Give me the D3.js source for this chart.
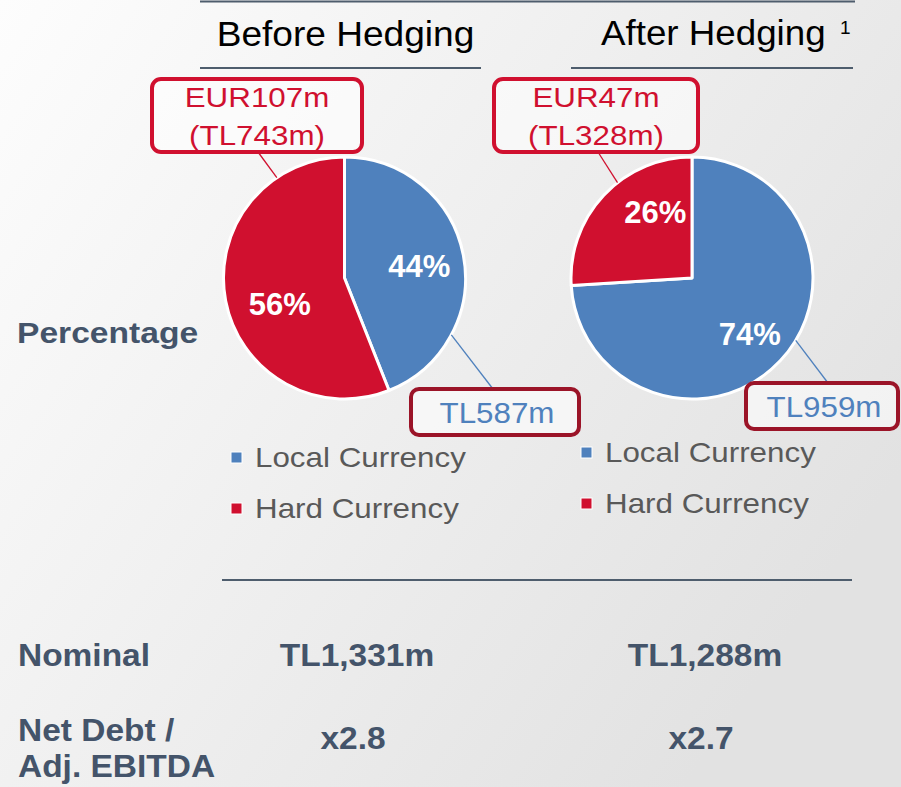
<!DOCTYPE html>
<html>
<head>
<meta charset="utf-8">
<script src="https://cdn.jsdelivr.net/npm/d3@7"></script>
<style>
  body { margin: 0; overflow: hidden; }
  text { font-family: "Liberation Sans", Arial, sans-serif; }
</style>
</head>
<body>
<div class="container"></div>
<script>
const WIDTH = 901;
const HEIGHT = 787;

// data
var panels = ["Before Hedging", "After Hedging"];
var seriesNames = ["Local Currency", "Hard Currency"];
var localShare = [44, 74];
var hardShare = [56, 26];
var localAmount = ["TL587m", "TL959m"];
var hardAmount = [["EUR107m", "(TL743m)"], ["EUR47m", "(TL328m)"]];
var nominal = ["TL1,331m", "TL1,288m"];
var leverage = ["x2.8", "x2.7"];

const BLUE = "#4f81bd";
const RED = "#d0102f";
const DARKRED = "#9b1428";
const SLATE = "#44546a";
const GREY = "#595959";
const RADIUS = 121;

var color = d3.scaleOrdinal().domain(seriesNames).range([BLUE, RED]);
var pieX = d3.scaleOrdinal().domain(panels).range([344.5, 692]);
var tableX = d3.scaleOrdinal().domain(panels).range([357, 705]);
const PIE_Y = 278;

// callout layout per panel (box position, leader start and pie angle in degrees)
var hardBox = [{x: 152, y: 79, w: 210, h: 73, lx: 258, ly: 152, a: -34},
               {x: 494, y: 79, w: 204, h: 73, lx: 598, ly: 152, a: -38}];
var localBox = [{x: 411, y: 389, w: 168, h: 46, lx: 493, ly: 389, a: 118},
                {x: 746, y: 383, w: 152, h: 46, lx: 828, ly: 383, a: 121}];
var legendPos = [{x: 231, y: 452}, {x: 581, y: 447}];
// small label nudges (px) from the centroid, local then hard
var pctNudge = [[[1, 2], [9, 12]], [[3, 5], [18, -15]]];

var translate = function (x, y) {
    return "translate(" + x + "," + y + ")";
};

// text helper; sx stretches glyphs a little the way the slide does
var label = function (g, x, y, txt, size, opts) {
    opts = opts || {};
    return g.append("text")
        .attr("transform", translate(x, y) + " scale(" + (opts.sx || 1) + ",1)")
        .attr("text-anchor", opts.anchor || "start")
        .attr("font-size", size)
        .attr("font-weight", opts.bold ? "bold" : "normal")
        .attr("fill", opts.fill || "#000")
        .text(txt);
};

var svg = d3.select(".container").append("svg")
    .attr("width", WIDTH)
    .attr("height", HEIGHT);

var grad = svg.append("defs").append("linearGradient")
    .attr("id", "bg").attr("x1", 0).attr("y1", 0).attr("x2", 1).attr("y2", 0.6);
grad.append("stop").attr("offset", "0%").attr("stop-color", "#fdfdfd");
grad.append("stop").attr("offset", "100%").attr("stop-color", "#e2e2e2");
svg.append("rect").attr("width", WIDTH).attr("height", HEIGHT).attr("fill", "url(#bg)");

// rules
var rule = function (x1, x2, y) {
    svg.append("line").attr("x1", x1).attr("x2", x2).attr("y1", y).attr("y2", y)
        .attr("stroke", "#4e5d6d").attr("stroke-width", 2);
};
rule(200, 855, 1.5);
rule(200, 481, 68);
rule(571, 853, 68);
rule(222, 852, 580);

// headers
label(svg, pieX(panels[0]) + 1, 46, panels[0], 35, {anchor: "middle", sx: 1.06});
label(svg, 601, 45, panels[1], 35, {sx: 1.05});
label(svg, 840, 34, "1", 19);

label(svg, 17, 343, "Percentage", 30, {bold: true, fill: SLATE, sx: 1.12});

var pie = d3.pie().sort(null).value(function (d) { return d.value; });
var arc = d3.arc().innerRadius(0).outerRadius(RADIUS);
var labelArc = d3.arc().innerRadius(RADIUS * 0.62).outerRadius(RADIUS * 0.62);

panels.forEach(function (p, i) {
    var cx = pieX(p);
    var data = [
        {name: seriesNames[0], value: localShare[i]},
        {name: seriesNames[1], value: hardShare[i]}
    ];
    var g = svg.append("g").attr("transform", translate(cx, PIE_Y));

    g.selectAll("path").data(pie(data)).enter().append("path")
        .attr("d", arc)
        .attr("fill", function (d) { return color(d.data.name); })
        .attr("stroke", "#fff")
        .attr("stroke-width", 3)
        .attr("stroke-linejoin", "round");

    g.selectAll("text.pct").data(pie(data)).enter().append("text")
        .attr("class", "pct")
        .attr("transform", function (d, j) {
            var c = labelArc.centroid(d);
            return translate(c[0] + pctNudge[i][j][0], c[1] + 11 + pctNudge[i][j][1]);
        })
        .attr("text-anchor", "middle")
        .attr("font-size", 31)
        .attr("font-weight", "bold")
        .attr("fill", "#fff")
        .text(function (d) { return d.data.value + "%"; });

    // leader lines to the callouts
    var leader = function (b, stroke) {
        var rad = b.a * Math.PI / 180;
        svg.append("line")
            .attr("x1", b.lx).attr("y1", b.ly)
            .attr("x2", cx + RADIUS * Math.sin(rad))
            .attr("y2", PIE_Y - RADIUS * Math.cos(rad))
            .attr("stroke", stroke).attr("stroke-width", 1.3);
    };
    leader(hardBox[i], RED);
    leader(localBox[i], BLUE);

    var hb = hardBox[i];
    svg.append("rect").attr("x", hb.x).attr("y", hb.y).attr("width", hb.w).attr("height", hb.h)
        .attr("rx", 9).attr("fill", "#fff").attr("fill-opacity", 0.55)
        .attr("stroke", RED).attr("stroke-width", 4);
    label(svg, hb.x + hb.w / 2, hb.y + 28, hardAmount[i][0], 28, {anchor: "middle", fill: RED, sx: 1.12});
    label(svg, hb.x + hb.w / 2, hb.y + 66, hardAmount[i][1], 28, {anchor: "middle", fill: RED, sx: 1.12});

    var lb = localBox[i];
    svg.append("rect").attr("x", lb.x).attr("y", lb.y).attr("width", lb.w).attr("height", lb.h)
        .attr("rx", 8).attr("fill", "#fff").attr("fill-opacity", 0.55)
        .attr("stroke", DARKRED).attr("stroke-width", 4);
    label(svg, lb.x + lb.w / 2 + 2, lb.y + 34, localAmount[i], 29, {anchor: "middle", fill: BLUE, sx: 1.08});

    // legend
    var lg = svg.append("g").attr("transform", translate(legendPos[i].x, legendPos[i].y));
    seriesNames.forEach(function (s, j) {
        lg.append("rect").attr("x", 0).attr("y", j * 51).attr("width", 11).attr("height", 11)
            .attr("fill", color(s)).attr("stroke", "#fff").attr("stroke-width", 1);
        label(lg, 24, j * 51 + 15, s, 28, {fill: GREY, sx: 1.12});
    });

    // table values
    label(svg, tableX(p), 666, nominal[i], 31, {anchor: "middle", bold: true, fill: SLATE, sx: 1.08});
    label(svg, tableX(p) - 4, 749, leverage[i], 31, {anchor: "middle", bold: true, fill: SLATE, sx: 1.08});
});

label(svg, 18, 666, "Nominal", 31, {bold: true, fill: SLATE, sx: 1.08});
label(svg, 18, 741, "Net Debt /", 31, {bold: true, fill: SLATE, sx: 1.08});
label(svg, 18, 777, "Adj. EBITDA", 31, {bold: true, fill: SLATE, sx: 1.08});
</script>
</body>
</html>
